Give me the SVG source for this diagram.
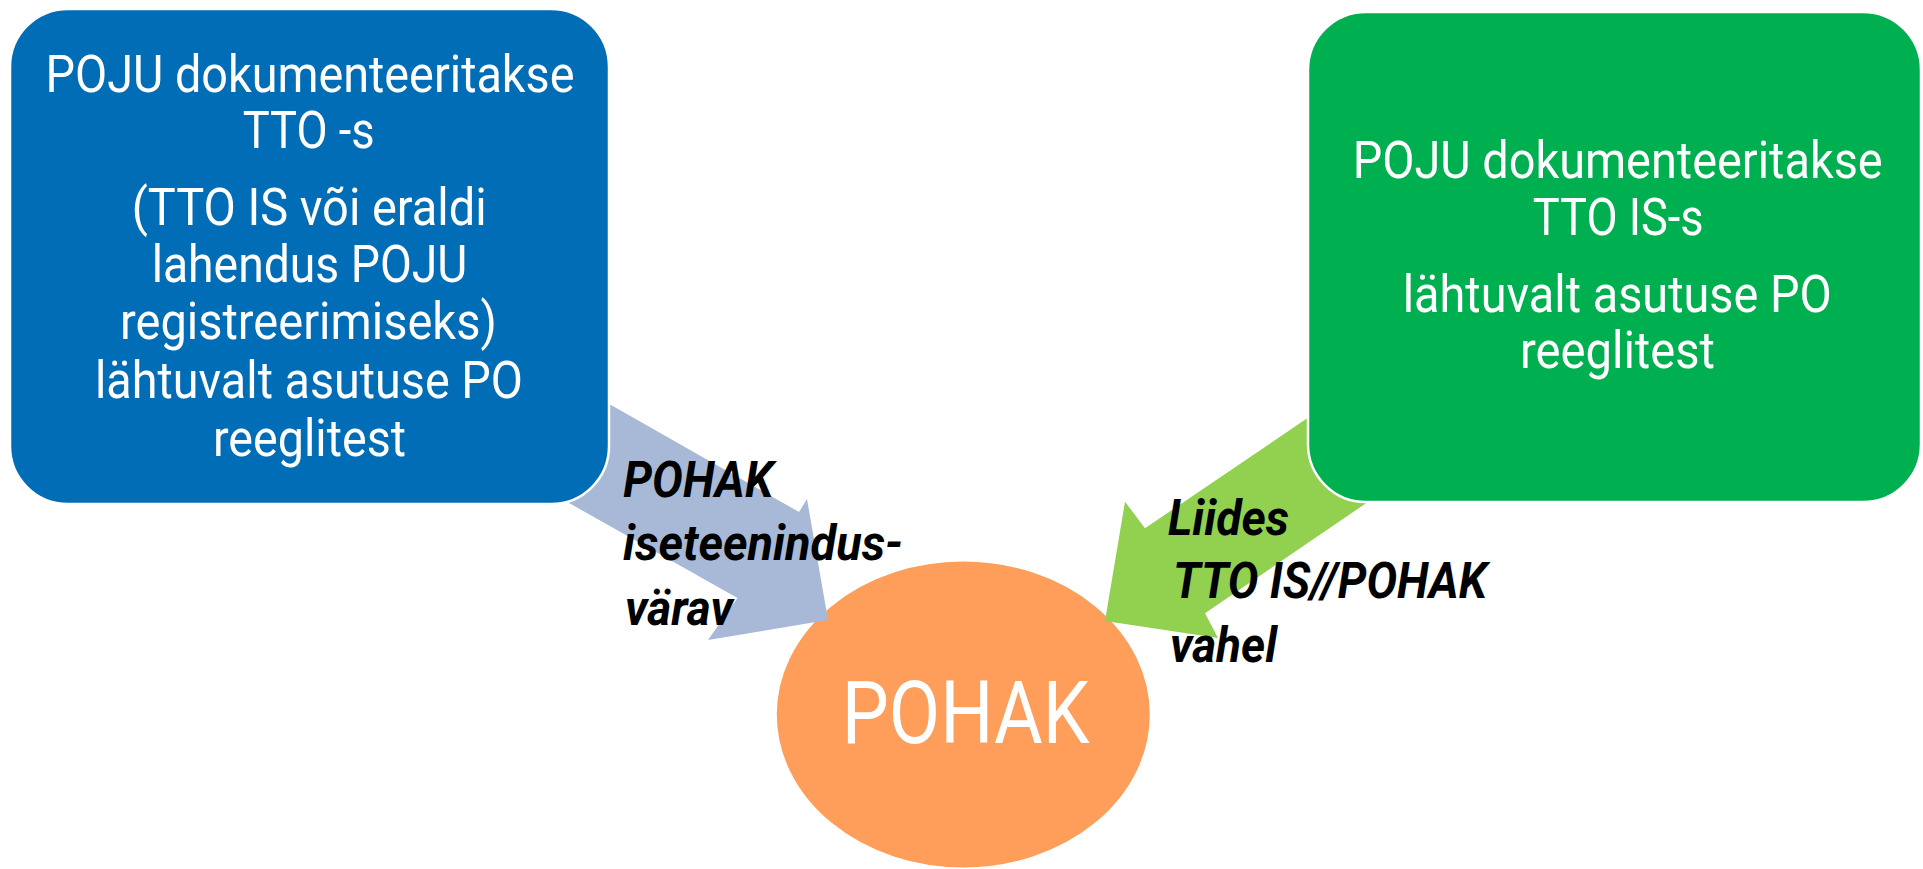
<svg xmlns="http://www.w3.org/2000/svg" width="1923" height="869" viewBox="0 0 1923 869">
<style>
.box-text{fill:#ffffff;font-family:Roboto,"Liberation Sans",sans-serif;font-size:52px;text-anchor:middle;}
.label{fill:#000000;font-family:Roboto,"Liberation Sans",sans-serif;font-size:49px;font-weight:bold;font-style:italic;}
.main{fill:#ffffff;font-family:Roboto,"Liberation Sans",sans-serif;font-size:88px;text-anchor:middle;}
</style>
<rect width="1923" height="869" fill="#ffffff"/>
<g id="pohak">
<ellipse cx="963.3" cy="714.5" rx="187.5" ry="154" fill="#FE9E5A" stroke="#ffffff" stroke-width="2"/>
<text class="main" x="965.7" y="742.7" textLength="248" lengthAdjust="spacingAndGlyphs">POHAK</text>
</g>
<g id="connectors">
<polygon id="arrow-left" points="560,376 799,512 807,499 828,620 708,640 737.5,598 530,481" fill="#A8B9D7"/>
<polygon id="arrow-right" points="1340,396 1145,528.3 1125,501.7 1105,621 1218,638 1205,613.3 1400,480" fill="#92D050"/>
</g>
<g id="box-left">
<rect x="10" y="9" width="599" height="495" rx="58" ry="58" fill="#006DB6" stroke="#ffffff" stroke-width="2.5"/>
<text class="box-text" x="310" y="91.7" textLength="529" lengthAdjust="spacingAndGlyphs">POJU dokumenteeritakse</text>
<text class="box-text" x="308.7" y="148.3" textLength="132" lengthAdjust="spacingAndGlyphs">TTO -s</text>
<text class="box-text" x="309.2" y="225" textLength="355" lengthAdjust="spacingAndGlyphs">(TTO IS või eraldi</text>
<text class="box-text" x="309.5" y="282.3" textLength="315.7" lengthAdjust="spacingAndGlyphs">lahendus POJU</text>
<text class="box-text" x="308.4" y="339" textLength="376.7" lengthAdjust="spacingAndGlyphs">registreerimiseks)</text>
<text class="box-text" x="309" y="398.3" textLength="428" lengthAdjust="spacingAndGlyphs">lähtuvalt asutuse PO</text>
<text class="box-text" x="309.5" y="455.5" textLength="193" lengthAdjust="spacingAndGlyphs">reeglitest</text>
</g>
<g id="box-right">
<rect x="1308" y="12" width="613" height="490" rx="58" ry="58" fill="#00B050" stroke="#ffffff" stroke-width="2.5"/>
<text class="box-text" x="1617.7" y="178.3" textLength="530" lengthAdjust="spacingAndGlyphs">POJU dokumenteeritakse</text>
<text class="box-text" x="1618.2" y="235" textLength="171" lengthAdjust="spacingAndGlyphs">TTO IS-s</text>
<text class="box-text" x="1617.2" y="311.7" textLength="429" lengthAdjust="spacingAndGlyphs">lähtuvalt asutuse PO</text>
<text class="box-text" x="1617.5" y="368.3" textLength="195" lengthAdjust="spacingAndGlyphs">reeglitest</text>
</g>
<g id="label-left">
<text class="label" x="623.3" y="496.7" textLength="150" lengthAdjust="spacingAndGlyphs">POHAK</text>
<text class="label" x="623" y="560" textLength="280" lengthAdjust="spacingAndGlyphs">iseteenindus-</text>
<text class="label" x="625" y="625" textLength="108" lengthAdjust="spacingAndGlyphs">värav</text>
</g>
<g id="label-right">
<text class="label" x="1168" y="535" textLength="121" lengthAdjust="spacingAndGlyphs">Liides</text>
<text class="label" x="1173" y="598.3" textLength="314" lengthAdjust="spacingAndGlyphs">TTO IS//POHAK</text>
<text class="label" x="1170" y="661.7" textLength="107" lengthAdjust="spacingAndGlyphs">vahel</text>
</g>
</svg>
